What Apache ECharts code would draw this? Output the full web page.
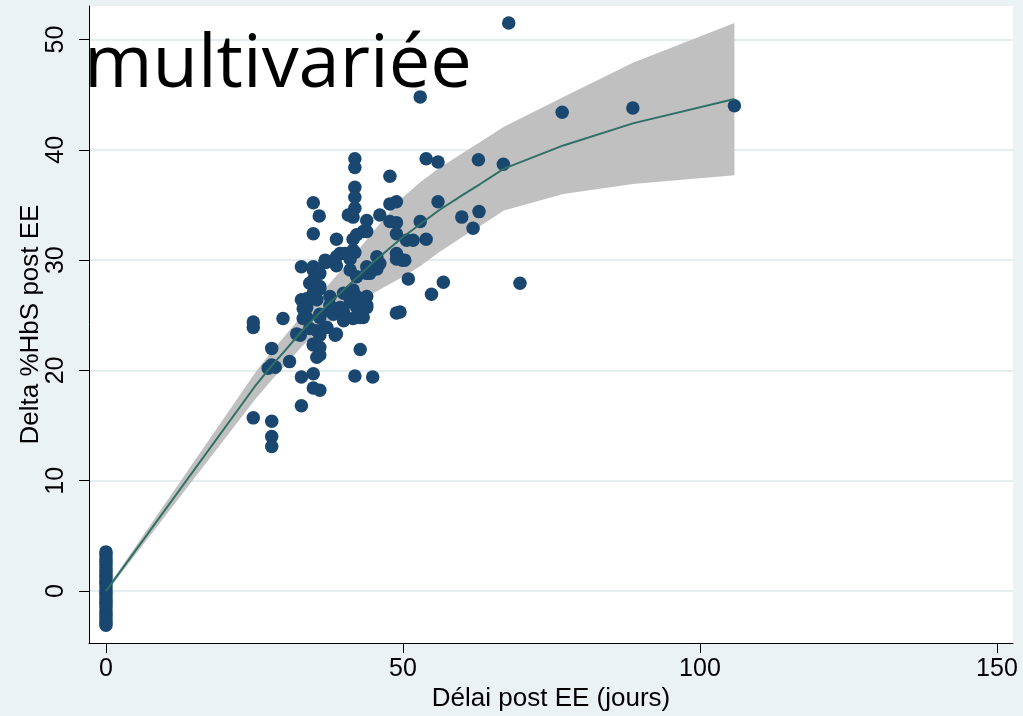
<!DOCTYPE html>
<html><head><meta charset="utf-8">
<script src="https://cdn.jsdelivr.net/npm/echarts@6/dist/echarts.min.js"></script>
<style>html,body{margin:0;padding:0;background:#eaf2f3}#c{width:1023px;height:716px}</style>
</head><body><div id="c"></div>
<script>
const xTicks = [0, 50, 100, 150];
const yTicks = [0, 10, 20, 30, 40, 50];
const titleText = 'multivariée';
const xTitle = 'Délai post EE (jours)';
const yTitle = 'Delta %HbS post EE';

// observations at day 0
const zeroDotsY = [-3.1, -2.85, -2.6, -2.3, -2.05, -1.8, -1.5, -1.2, -0.95, -0.7, -0.4, -0.15, 0.1, 0.4, 0.7, 0.95, 1.25, 1.5, 1.8, 2.1, 2.4, 2.7, 3.0, 3.3, 3.55];

// observations after exchange (x = days, y = delta %HbS)
const dots = [
  [67.8,51.5],[52.9,44.8],[76.8,43.4],[88.7,43.8],[105.8,44.0],
  [41.9,39.2],[41.9,38.4],[47.8,37.6],[53.9,39.2],[55.9,38.9],[62.7,39.1],[66.9,38.7],
  [41.9,36.6],[41.9,35.7],[34.9,35.2],[35.9,34.0],[47.8,35.1],[48.9,35.3],[55.9,35.3],
  [41.9,34.7],[41.6,33.9],[40.8,34.1],[43.9,33.6],[46.1,34.1],[47.8,33.5],[48.9,33.4],[52.9,33.5],[59.9,33.9],[62.8,34.4],[61.8,32.9],
  [34.9,32.4],[38.8,31.9],[41.6,31.9],[42.2,32.3],[43.3,32.6],[43.9,32.6],[48.9,32.4],[50.6,31.8],[51.7,31.8],[53.9,31.9],
  [36.9,30.0],[38.8,30.3],[39.4,30.6],[40.2,30.6],[41.6,30.9],[41.9,30.7],[45.6,30.3],[46.1,29.7],[48.9,30.6],[48.9,30.1],[49.9,30.0],[50.3,30.0],
  [32.9,29.4],[34.9,29.4],[34.9,29.1],[36.9,29.8],[37.1,29.8],[38.8,29.5],[41.1,30.1],[41.1,29.1],[43.9,29.4],[43.9,28.8],[44.4,28.8],[45.6,29.2],
  [42.2,28.5],[36.0,28.8],[34.9,28.2],[34.9,28.0],[36.0,27.4],[34.9,27.0],[34.3,27.9],[36.0,27.6],[50.9,28.3],[56.8,28.0],[54.8,26.9],[69.7,27.9],
  [33.8,26.5],[35.5,26.4],[32.9,26.4],[37.7,26.7],[40.0,27.0],[41.6,27.3],[42.2,26.7],[43.9,26.7],[41.1,26.2],[42.2,26.5],
  [33.2,25.6],[33.8,25.7],[37.7,25.9],[39.4,25.7],[43.9,25.9],[43.9,25.7],[42.2,25.7],[40.0,25.3],[37.7,25.4],[38.3,25.1],[36.0,25.1],
  [36.0,24.8],[33.8,24.8],[33.2,24.7],[42.8,24.8],[41.6,24.7],[40.0,24.5],[43.3,24.8],[48.9,25.2],[49.5,25.3],
  [29.8,24.7],[24.8,24.4],[24.8,23.9],[32.7,23.2],[32.1,23.3],[34.3,23.8],[35.5,23.6],[36.9,23.9],[37.2,23.9],[38.6,23.2],[36.0,23.2],[38.8,23.3],
  [34.9,22.4],[34.9,22.3],[36.0,22.1],[35.5,21.2],[36.0,21.4],[27.9,22.0],[42.8,21.9],
  [30.9,20.8],[27.3,20.2],[28.5,20.3],[27.9,20.5],
  [32.9,19.4],[34.9,19.7],[41.9,19.5],[44.9,19.4],[34.9,18.4],[36.0,18.2],
  [32.9,16.8],[24.8,15.7],[27.9,15.4],[27.9,14.0],[27.9,13.1]
];

// fitted curve with confidence band
const fitX  = [0, 25, 28, 30, 33, 35, 37, 40, 42, 45, 48, 50, 53, 56, 60, 63, 67, 77, 88.7, 105.8];
const fitY  = [0, 18.5, 20.5, 21.7, 23.6, 24.7, 25.8, 27.3, 28.3, 29.8, 31.2, 32.1, 33.3, 34.5, 35.9, 36.9, 38.3, 40.4, 42.4, 44.6];
const fitLo = [-0.15, 17.3, 19.2, 20.35, 22.2, 23.15, 24.1, 25.3, 26.0, 27.0, 27.9, 28.5, 29.5, 30.7, 32.1, 33.1, 34.5, 36.0, 36.9, 37.7];
const fitHi = [0.15, 19.7, 21.8, 23.05, 25.0, 26.25, 27.5, 29.3, 30.6, 32.6, 34.5, 35.7, 37.1, 38.3, 39.7, 40.7, 42.1, 44.8, 47.9, 51.5];

const chart = echarts.init(document.getElementById('c'), null, {renderer: 'canvas'});
const axisFont = 'Liberation Sans';
const pts = zeroDotsY.map(v => [0, v]).concat(dots);

chart.setOption({
  backgroundColor: '#eaf2f3',
  animation: false,
  grid: {left: 89, right: 10, top: 6, bottom: 73, outerBoundsMode: 'none', containLabel: false,
         show: true, backgroundColor: '#ffffff', borderWidth: 0},
  graphic: [{
    type: 'text', left: 84, top: 29, z: 100,
    style: {text: titleText, font: '74px "Open Sans"', fill: '#000000'}
  }],
  xAxis: {
    type: 'value', min: -2.86, max: 152.7,
    name: xTitle, nameLocation: 'middle', nameGap: 43, nameMoveOverlap: false,
    nameTextStyle: {fontFamily: axisFont, fontSize: 26, color: '#000'},
    axisLine: {show: true, onZero: false, lineStyle: {color: '#000', width: 1}},
    axisTick: {show: true, length: 10, customValues: xTicks, lineStyle: {color: '#000'}},
    axisLabel: {customValues: xTicks, margin: 14, fontFamily: axisFont, fontSize: 25, color: '#000'},
    splitLine: {show: false}
  },
  yAxis: {
    type: 'value', min: -4.71, max: 53.04,
    name: yTitle, nameLocation: 'middle', nameGap: 45, nameRotate: 90, nameMoveOverlap: false,
    nameTextStyle: {fontFamily: axisFont, fontSize: 26, color: '#000'},
    axisLine: {show: true, onZero: false, lineStyle: {color: '#000', width: 1}},
    axisTick: {show: true, length: 10, customValues: yTicks, lineStyle: {color: '#000'}},
    axisLabel: {customValues: yTicks, rotate: 90, margin: 20, fontFamily: axisFont, fontSize: 25, color: '#000'},
    splitLine: {show: true, lineStyle: {color: '#e4eef1', width: 2}}
  },
  series: [
    {
      type: 'custom', silent: true, z: 1,
      data: fitX.map((x, i) => [x, fitLo[i], fitHi[i]]),
      encode: {x: 0, y: [1, 2]},
      renderItem: function (params, api) {
        if (params.dataIndex !== 0) return null;
        const upper = fitX.map((x, i) => api.coord([x, fitHi[i]]));
        const lower = fitX.map((x, i) => api.coord([x, fitLo[i]])).reverse();
        return {type: 'polygon', shape: {points: upper.concat(lower)}, style: {fill: '#c0c0c0'}};
      }
    },
    {
      type: 'scatter', symbol: 'circle', symbolSize: 13.5, z: 2,
      itemStyle: {color: '#1a476f', opacity: 1},
      data: pts
    },
    {
      type: 'line', symbol: 'none', z: 3,
      lineStyle: {color: '#2e7063', width: 2},
      data: fitX.map((x, i) => [x, fitY[i]])
    }
  ]
});
</script>
</body></html>
